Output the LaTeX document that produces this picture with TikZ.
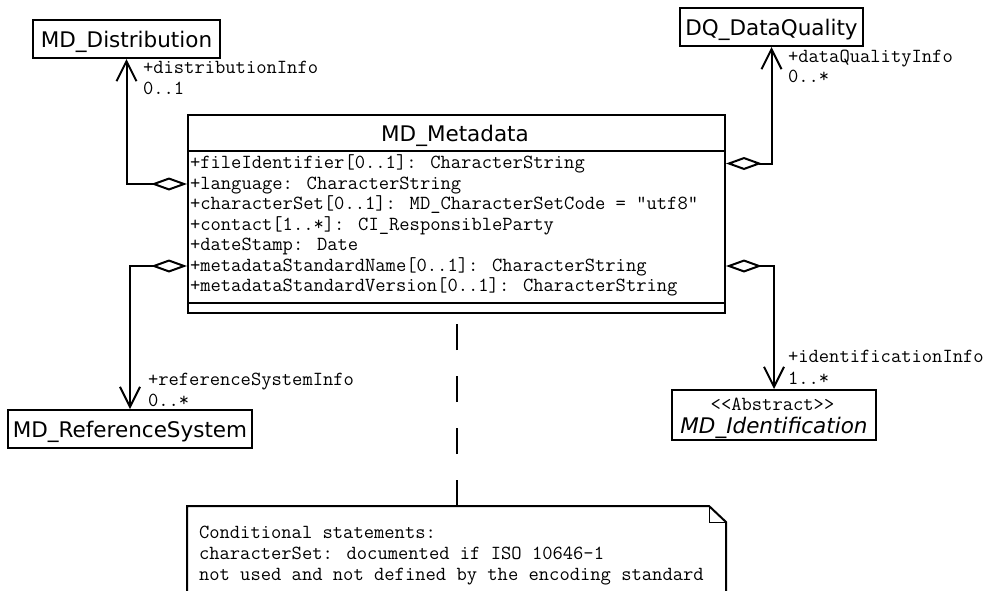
\documentclass[tikz,border=0pt]{standalone}
\usepackage{fontspec}
\setsansfont{DejaVu Sans}
\usetikzlibrary{arrows.meta}
\newcommand\clsf{\sffamily\fontsize{21.5}{25}\selectfont}
\newcommand\monof{\ttfamily\fontsize{20}{20.5}\selectfont}
\begin{document}
\begin{tikzpicture}[x=1pt, y=-1pt, line width=2pt,
  cls/.style={draw, rectangle, inner sep=0pt, font=\clsf, text height=16pt, text depth=0pt},
  row/.style={anchor=base west, inner sep=0pt, font=\monof, text height=10pt, text depth=0pt},
  assoc/.style={{Diamond[length=36pt,width=13pt,fill=white]}-{Straight Barb[length=20pt,width=20pt]}, line join=miter},
  dashline/.style={dash pattern=on 26pt off 26pt},
  thinline/.style={line width=1pt}]
\useasboundingbox (0,0) rectangle (986,590);
\clip (0,0) rectangle (986,590);

% main class
\node[draw, rectangle, inner sep=0pt, minimum width=537pt, minimum height=198pt] (meta) at (456.5,214) {};
\node[anchor=base, inner sep=0pt, font=\clsf] (title) at (455,141) {MD\_Metadata};
\draw ([yshift=-37pt]meta.north west) -- ([yshift=-37pt]meta.north east);
\draw ([yshift=11pt]meta.south west) -- ([yshift=11pt]meta.south east);
\node[row] (r1) at (189,168.5) {+fileIdentifier[0..1]: CharacterString};
\node[row] (r2) at (189,189) {+language: CharacterString};
\node[row] (r3) at (189,209.5) {+characterSet[0..1]: MD\_CharacterSetCode = "utf8"};
\node[row] (r4) at (189,230) {+contact[1..*]: CI\_ResponsibleParty};
\node[row] (r5) at (189,250.5) {+dateStamp: Date};
\node[row] (r6) at (189,271) {+metadataStandardName[0..1]: CharacterString};
\node[row] (r7) at (189,291.5) {+metadataStandardVersion[0..1]: CharacterString};

% other classes
\node[cls, minimum width=187pt, minimum height=38pt] (dist) at (126.5,39) {MD\_Distribution};
\node[cls, minimum width=183pt, minimum height=38pt] (dq) at (771.5,27) {DQ\_DataQuality};
\node[cls, minimum width=244pt, minimum height=38pt] (ref) at (130,429) {MD\_ReferenceSystem};
\node[draw, rectangle, inner sep=0pt, minimum width=204pt, minimum height=50pt] (ident) at (774,415) {};
\node[anchor=base, inner sep=0pt, font=\monof] (ster) at (772.5,410) {<<Abstract>>};
\node[anchor=base, inner sep=0pt, font=\clsf\itshape] (identname) at (774,433) {MD\_Identification};

% associations
\draw[assoc] (meta.west |- r2) -| (dist.south);
\draw[assoc] (meta.east |- r1) -| (dq.south);
\draw[assoc] (meta.west |- r6) -| (ref.north);
\draw[assoc] (meta.east |- r6) -| (ident.north);

% role labels
\node[row] (l1a) at (142,73) {+distributionInfo};
\node[row] (l1b) at (142,94) {0..1};
\node[row] (l2a) at (787,62) {+dataQualityInfo};
\node[row] (l2b) at (787,82) {0..*};
\node[row] (l3a) at (147,385) {+referenceSystemInfo};
\node[row] (l3b) at (147,406) {0..*};
\node[row] (l4a) at (787,362) {+identificationInfo};
\node[row] (l4b) at (787,384) {1..*};

% note
\node[inner sep=0pt, minimum width=537pt, minimum height=120pt] (note) at (456.5,567) {};
\draw (note.south west) -- (note.north west) -- ([xshift=-17pt]note.north east) -- ([yshift=-16pt]note.north east) -- (note.south east);
\draw[thinline] ([xshift=-17pt]note.north east) -- ([xshift=-17pt,yshift=-16pt]note.north east) -- ([yshift=-16pt]note.north east);
\node[row] (n1) at (198,538) {Conditional statements:};
\node[row] (n2) at (198,559) {characterSet: documented if ISO 10646-1};
\node[row] (n3) at (198,580) {not used and not defined by the encoding standard};

% note link
\draw[dashline] (note.north) -- (meta.south);
\end{tikzpicture}
\end{document}
